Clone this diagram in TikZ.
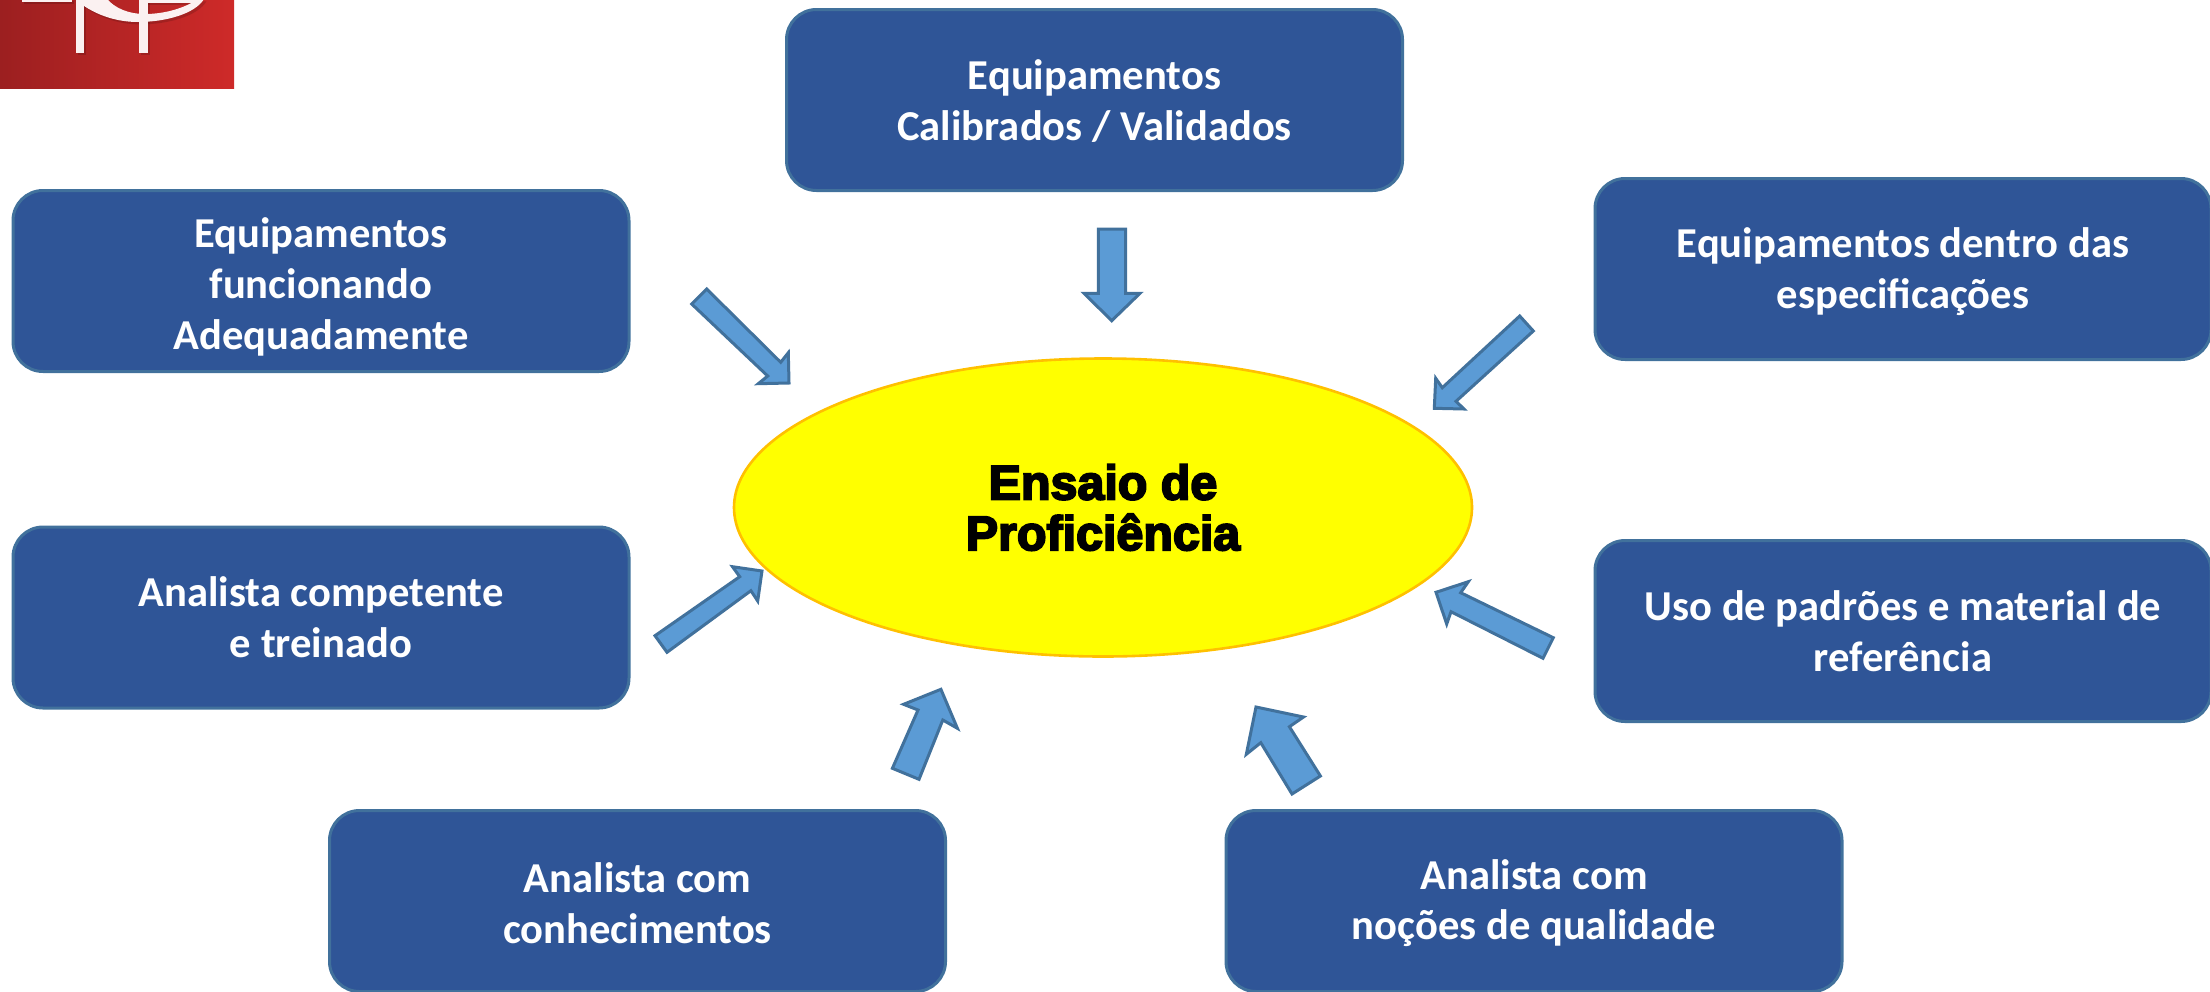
\documentclass[tikz,border=0pt]{standalone}
\usepackage{fontspec}
\setmainfont{Carlito}
\newfontfamily\blkfont[BoldFeatures={FakeBold=4}]{Liberation Sans}
\definecolor{boxfill}{HTML}{2F5597}
\definecolor{boxline}{HTML}{41719C}
\definecolor{arrfill}{HTML}{5B9BD5}
\definecolor{arrline}{HTML}{41719C}
\definecolor{elline}{HTML}{FFC000}
\definecolor{elfill}{HTML}{FFFF00}
\definecolor{logoL}{HTML}{9C1F20}
\definecolor{logoR}{HTML}{CE2A29}
\definecolor{logoW}{HTML}{FBF1F1}
\usetikzlibrary{shapes.geometric}
\tikzset{
  infobox/.style={draw=boxline,fill=boxfill,line width=1.5pt,rounded corners=15pt,
    minimum width=308pt,minimum height=90.5pt,inner sep=0pt,anchor=center},
  boxtext/.style={inner sep=0pt,align=center,text=white,
    font=\fontsize{21.3}{25.4}\selectfont\bfseries,anchor=center},
  blockarrow/.style={draw=arrline,fill=arrfill,line width=1.5pt,line join=miter},
  core/.style={ellipse,draw=elline,fill=elfill,line width=1.3pt,minimum width=369pt,minimum height=149pt,
    inner sep=0pt,align=center,font=\blkfont\fontsize{24.2}{25.3}\selectfont\bfseries}
}
\newcommand{\logoshapes}[1]{%
  \fill[#1] (22,-1) rectangle (72,2);
  \fill[#1] (143,-1) rectangle (197,2.5);
  \fill[#1] (76,-1) rectangle (84,53);
  \fill[#1] (139,-1) rectangle (148,53);
  \fill[#1] (75,-1) .. controls (92,14) and (115,22) .. (138,22) .. controls (165,22) and (195,14) .. (204,-1) -- (198,-1) .. controls (185,8) and (165,14) .. (145,14) .. controls (128,14) and (115,8) .. (107,-1) -- cycle;
}
\begin{document}
\begin{tikzpicture}[x=0.5pt,y=-0.5pt]
\useasboundingbox (0,0) rectangle (2210,991);
\clip (0,0) rectangle (2210,991);
% logo
\shade[left color=logoL,right color=logoR] (0,0) rectangle (234,88);
\begin{scope}[xshift=1.2pt,yshift=-1.2pt]
\logoshapes{black,opacity=0.15}
\end{scope}
\logoshapes{logoW}
% boxes
\node[infobox] (top) at (1094.5,100) {};
\node[boxtext,yshift=-0.7pt] (toptext) at (top) {Equipamentos\\Calibrados / Validados};
\node[infobox] (lone) at (321,281) {};
\node[boxtext,yshift=-2.8pt] (lonetext) at (lone) {Equipamentos\\funcionando\\Adequadamente};
\node[infobox] (rone) at (1903,269) {};
\node[boxtext,yshift=-1.4pt] (ronetext) at (rone) {Equipamentos dentro das\\especificações};
\node[infobox] (ltwo) at (321,617.5) {};
\node[boxtext] (ltwotext) at (ltwo) {Analista competente\\e treinado};
\node[infobox] (rtwo) at (1903,631) {};
\node[boxtext] (rtwotext) at (rtwo) {Uso de padrões e material de\\referência};
\node[infobox] (bl) at (637.5,901) {};
\node[boxtext,yshift=-1.1pt] (bltext) at (bl) {Analista com\\conhecimentos};
\node[infobox] (br) at (1534,901) {};
\node[boxtext,yshift=-1.1pt] (brtext) at (br) {Analista com\\noções de qualidade};
% centre
\node[core] (centre) at (1103,507.5) {Ensaio de\\Proficiência};
% block arrows
\draw[blockarrow] (706.7,289) -- (691.7,304) -- (767.7,376) -- (758.3,383.7) -- (789,383) -- (788.3,352.7) -- (780.7,362.3) -- cycle;
\draw[blockarrow] (1098.3,229) -- (1125.7,229) -- (1125.7,293.3) -- (1140,293.3) -- (1111.7,320.7) -- (1084,293.3) -- (1098.3,293.3) -- cycle;
\draw[blockarrow] (1519.7,316) -- (1442.3,387.7) -- (1435.7,378.3) -- (1434.3,408.3) -- (1464,409) -- (1456,401.3) -- (1533.3,331) -- cycle;
\draw[blockarrow] (1553.3,637.7) -- (1460.7,592.7) -- (1468.3,581.7) -- (1436,592.3) -- (1446.7,624) -- (1451,611.7) -- (1543,658.3) -- cycle;
\draw[blockarrow] (655,635.7) -- (739.7,576.7) -- (732.5,566.7) -- (762,571) -- (757.7,601) -- (750.9,590.7) -- (667,652.3) -- cycle;
\draw[blockarrow] (892.4,768.3) -- (918,710) -- (903.6,704.3) -- (940.9,689.3) -- (957.4,728.3) -- (942.8,720) -- (919,779.3) -- cycle;
\draw[blockarrow] (1320.4,776) -- (1289.4,726.7) -- (1303.5,717) -- (1256,707) -- (1246.3,754.3) -- (1260.8,742.7) -- (1292,794) -- cycle;
\end{tikzpicture}
\end{document}
